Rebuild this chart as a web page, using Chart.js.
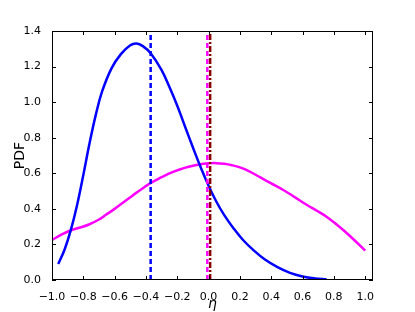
<!DOCTYPE html>
<html>
<head>
<meta charset="utf-8">
<script src="https://cdn.jsdelivr.net/npm/chart.js@4.4.0/dist/chart.umd.min.js"></script>
<style>
  html, body { margin: 0; padding: 0; background: #fff; }
  canvas { display: block; }
</style>
</head>
<body>
<canvas id="myChart" width="415" height="312"></canvas>
<script>
const ctx = document.getElementById('myChart');

// blue PDF curve
const blueX = [-0.96, -0.92, -0.88, -0.84, -0.80, -0.76, -0.72, -0.68, -0.62, -0.56, -0.50, -0.46, -0.42, -0.37, -0.30, -0.25, -0.20, -0.15, -0.10, -0.05, 0.0, 0.05, 0.10, 0.16, 0.22, 0.29, 0.36, 0.44, 0.52, 0.60, 0.68, 0.753];
const blueY = [0.09, 0.17, 0.28, 0.42, 0.59, 0.77, 0.93, 1.06, 1.19, 1.27, 1.32, 1.33, 1.315, 1.275, 1.18, 1.085, 0.98, 0.862, 0.745, 0.632, 0.53, 0.44, 0.365, 0.29, 0.225, 0.165, 0.115, 0.072, 0.040, 0.020, 0.009, 0.004];

// magenta PDF curve
const magX = [-1.0, -0.94, -0.887, -0.82, -0.764, -0.70, -0.658, -0.60, -0.552, -0.50, -0.467, -0.40, -0.371, -0.30, -0.254, -0.19, -0.127, -0.06, 0.0, 0.05, 0.10, 0.15, 0.20, 0.26, 0.328, 0.40, 0.477, 0.55, 0.626, 0.70, 0.753, 0.80, 0.86, 0.93, 1.0];
const magY = [0.225, 0.255, 0.277, 0.295, 0.312, 0.34, 0.365, 0.40, 0.431, 0.465, 0.487, 0.528, 0.545, 0.578, 0.598, 0.62, 0.637, 0.65, 0.656, 0.657, 0.653, 0.645, 0.633, 0.611, 0.578, 0.543, 0.506, 0.466, 0.423, 0.385, 0.356, 0.325, 0.281, 0.225, 0.165];

// vertical markers: blue mean, magenta mean, red reference
const vBlue = -0.37;
const vMag = -0.008;
const vRed = 0.01;

const xTicks = [-1.0, -0.8, -0.6, -0.4, -0.2, 0.0, 0.2, 0.4, 0.6, 0.8, 1.0];
const yTicks = [0.0, 0.2, 0.4, 0.6, 0.8, 1.0, 1.2, 1.4];

Chart.defaults.font.family = "'DejaVu Sans', sans-serif";
Chart.defaults.color = '#000';

function pts(xs, ys) {
  return xs.map((x, i) => ({x: x, y: ys[i]}));
}
function vline(x) {
  return [{x: x, y: 0}, {x: x, y: 1.4}];
}
function fmt(v) {
  if (Math.abs(v) < 1e-9) return '0.0';
  return (v < 0 ? '\u2212' : '') + Math.abs(v).toFixed(1);
}

// matplotlib style frame with inward ticks on all four sides
const frameTicks = {
  id: 'frameTicks',
  afterDatasetsDraw(chart) {
    const {ctx, chartArea: a, scales: {x, y}} = chart;
    ctx.save();
    ctx.strokeStyle = '#000';
    ctx.lineWidth = 1;
    ctx.beginPath();
    x.ticks.forEach(t => {
      const px = Math.round(x.getPixelForValue(t.value)) + 0.5;
      ctx.moveTo(px, a.bottom); ctx.lineTo(px, a.bottom - 4);
      ctx.moveTo(px, a.top); ctx.lineTo(px, a.top + 4);
    });
    y.ticks.forEach(t => {
      const py = Math.round(y.getPixelForValue(t.value)) + 0.5;
      ctx.moveTo(a.left, py); ctx.lineTo(a.left + 4, py);
      ctx.moveTo(a.right, py); ctx.lineTo(a.right - 4, py);
    });
    ctx.stroke();
    ctx.strokeRect(a.left + 0.5, a.top + 0.5, a.right - a.left - 1, a.bottom - a.top - 1);
    ctx.restore();
  }
};

const myChart = new Chart(ctx, {
  type: 'line',
  data: {
    datasets: [
      { data: vline(vRed), borderColor: '#8b0000', borderWidth: 2.5, borderDash: [6, 2, 2, 2] },
      { data: vline(vMag), borderColor: '#ff00ff', borderWidth: 2.5, borderDash: [5, 3] },
      { data: vline(vBlue), borderColor: '#0000ff', borderWidth: 2.5, borderDash: [5, 3] },
      { data: pts(blueX, blueY), borderColor: '#0000ff', borderWidth: 2.5, tension: 0.4 },
      { data: pts(magX, magY), borderColor: '#ff00ff', borderWidth: 2.5, tension: 0.4 }
    ]
  },
  options: {
    responsive: false,
    animation: false,
    devicePixelRatio: 1,
    layout: { padding: { top: 31, right: 42, left: 0, bottom: 0 } },
    elements: { point: { radius: 0 } },
    plugins: { legend: { display: false }, tooltip: { enabled: false } },
    scales: {
      x: {
        type: 'linear',
        min: -1.0,
        max: 1.05,
        afterBuildTicks: s => { s.ticks = xTicks.map(v => ({value: v})); },
        afterFit: s => { s.height = 32; },
        grid: { display: false },
        border: { display: false },
        ticks: { font: { size: 11 }, padding: 3, maxRotation: 0, autoSkip: false, callback: fmt },
        title: { display: true, text: '\u03b7', font: { size: 14, style: 'italic' }, padding: { top: 0, bottom: -1 } }
      },
      y: {
        min: 0,
        max: 1.4,
        afterBuildTicks: s => { s.ticks = yTicks.map(v => ({value: v})); },
        afterFit: s => { s.width = 52; },
        grid: { display: false },
        border: { display: false },
        ticks: { font: { size: 11 }, padding: 3, autoSkip: false, callback: fmt },
        title: { display: true, text: 'PDF', font: { size: 14 }, padding: { top: 12, bottom: 0 } }
      }
    }
  },
  plugins: [frameTicks]
});
</script>
</body>
</html>
